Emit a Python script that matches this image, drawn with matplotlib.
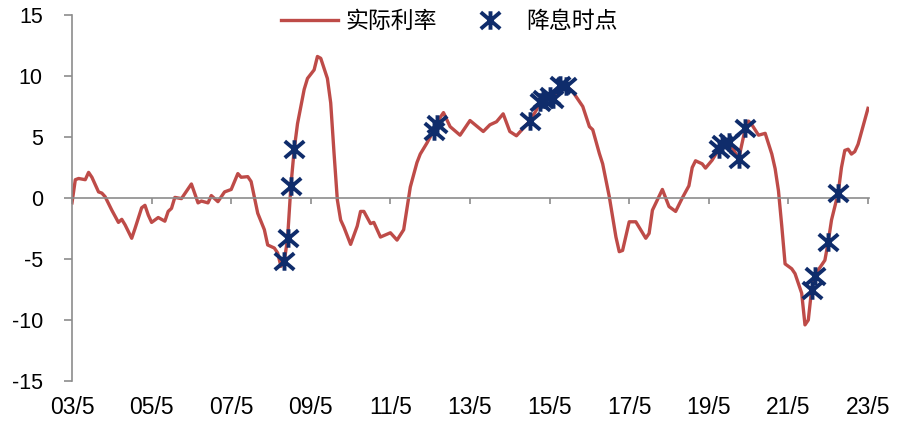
import numpy as np
import matplotlib
matplotlib.use("Agg")
import matplotlib.pyplot as plt
from matplotlib.path import Path

# real interest rate, monthly readings (YYYY-MM, %)
rate_dates = [
    "2003-05", "2003-06", "2003-07", "2003-09", "2003-10", "2003-11", "2004-01", "2004-02",
    "2004-03", "2004-05", "2004-07", "2004-08", "2004-09", "2004-11", "2004-12", "2005-02",
    "2005-03", "2005-04", "2005-05", "2005-07", "2005-09", "2005-10", "2005-11", "2005-12",
    "2006-02", "2006-05", "2006-07", "2006-08", "2006-10", "2006-11", "2007-01", "2007-03",
    "2007-05", "2007-07", "2007-08", "2007-10", "2007-11", "2008-01", "2008-03", "2008-04",
    "2008-06", "2008-07", "2008-08", "2008-09", "2008-10", "2008-11", "2008-12", "2009-01",
    "2009-03", "2009-04", "2009-06", "2009-07", "2009-08", "2009-10", "2009-11", "2009-12",
    "2010-01", "2010-02", "2010-03", "2010-05", "2010-07", "2010-08", "2010-09", "2010-11",
    "2010-12", "2011-02", "2011-05", "2011-07", "2011-09", "2011-11", "2012-01", "2012-02",
    "2012-04", "2012-05", "2012-06", "2012-07", "2012-08", "2012-09", "2012-11", "2013-02",
    "2013-05", "2013-09", "2013-11", "2014-01", "2014-03", "2014-05", "2014-07", "2014-09",
    "2014-11", "2015-01", "2015-02", "2015-03", "2015-05", "2015-06", "2015-07", "2015-08",
    "2015-09", "2015-10", "2015-12", "2016-03", "2016-05", "2016-06", "2016-08", "2016-09",
    "2016-11", "2017-01", "2017-02", "2017-03", "2017-05", "2017-07", "2017-10", "2017-11",
    "2017-12", "2018-03", "2018-05", "2018-07", "2018-09", "2018-10", "2018-11", "2018-12",
    "2019-01", "2019-03", "2019-04", "2019-06", "2019-08", "2019-09", "2019-11", "2019-12",
    "2020-02", "2020-04", "2020-05", "2020-06", "2020-08", "2020-10", "2020-12", "2021-01",
    "2021-02", "2021-03", "2021-04", "2021-06", "2021-07", "2021-09", "2021-10", "2021-11",
    "2021-12", "2022-01", "2022-02", "2022-04", "2022-05", "2022-06", "2022-08", "2022-09",
    "2022-10", "2022-11", "2022-12", "2023-01", "2023-02", "2023-05",
]
rate_values = [
    -0.4, 1.5, 1.6, 1.5, 2.1, 1.7, 0.5, 0.4,
    0.1, -1.0, -2.0, -1.75, -2.2, -3.3, -2.5, -0.8,
    -0.6, -1.4, -2.0, -1.6, -1.9, -1.1, -0.85, 0.05,
    -0.05, 1.15, -0.4, -0.25, -0.4, 0.2, -0.3, 0.5,
    0.7, 2.0, 1.7, 1.75, 1.35, -1.25, -2.6, -3.85,
    -4.1, -4.5, -5.6, -5.2, -3.3, 1.0, 4.0, 6.1,
    8.9, 9.8, 10.5, 11.6, 11.45, 9.8, 7.8, 3.7,
    -0.15, -1.8, -2.4, -3.8, -2.3, -1.1, -1.1, -2.1,
    -2.0, -3.2, -2.85, -3.45, -2.6, 0.9, 2.9, 3.6,
    4.5, 5.0, 5.5, 6.1, 6.6, 7.0, 5.85, 5.15,
    6.35, 5.45, 6.0, 6.25, 6.9, 5.45, 5.1, 5.7,
    6.3, 7.2, 7.9, 8.1, 8.4, 8.1, 8.7, 9.3,
    9.4, 9.2, 8.7, 7.5, 5.85, 5.6, 3.65, 2.8,
    0.1, -3.2, -4.4, -4.3, -1.95, -1.95, -3.3, -2.9,
    -1.0, 0.7, -0.7, -1.1, 0.0, 0.5, 1.0, 2.5,
    3.05, 2.8, 2.45, 3.1, 4.0, 4.4, 4.6, 4.2,
    3.2, 5.7, 6.3, 6.0, 5.15, 5.3, 3.6, 2.4,
    0.6, -2.3, -5.4, -5.8, -6.2, -7.8, -10.4, -10.0,
    -7.5, -6.4, -5.9, -5.1, -3.6, -1.8, 0.4, 2.5,
    3.9, 4.0, 3.6, 3.8, 4.4, 7.35,
]

# rate cut dates and the real rate at that time
cut_dates = [
    "2008-09", "2008-10", "2008-11", "2008-12",
    "2012-06", "2012-07",
    "2014-11", "2015-02", "2015-03", "2015-05", "2015-06", "2015-08", "2015-10",
    "2019-08", "2019-09", "2019-11", "2020-02", "2020-04",
    "2021-12", "2022-01", "2022-05", "2022-08",
]
cut_values = [
    -5.2, -3.3, 1.0, 4.0,
    5.5, 6.1,
    6.3, 7.9, 8.1, 8.4, 8.1, 9.3, 9.2,
    4.0, 4.4, 4.6, 3.2, 5.7,
    -7.5, -6.4, -3.6, 0.4,
]

tick_labels = ["03/5", "05/5", "07/5", "09/5", "11/5", "13/5",
               "15/5", "17/5", "19/5", "21/5", "23/5"]
y_ticks = [-15, -10, -5, 0, 5, 10, 15]


def month_index(s):
    y, m = s.split("-")
    return (int(y) - 2003) * 12 + int(m) - 5


rate_x = [month_index(d) for d in rate_dates]
cut_x = [month_index(d) for d in cut_dates]

LINE_COLOR = "#BE4B48"
MARK_COLOR = "#0F2C6B"
AXIS_COLOR = "#8C8C8C"

# excel-style star marker: X plus a vertical stroke
star = Path(
    [(-1, -0.85), (1, 0.85), (-1, 0.85), (1, -0.85), (0, -0.95), (0, 0.95)],
    [Path.MOVETO, Path.LINETO, Path.MOVETO, Path.LINETO, Path.MOVETO, Path.LINETO],
)

plt.rcParams["font.family"] = ["Liberation Sans", "Noto Sans CJK SC", "DejaVu Sans"]
plt.rcParams["axes.unicode_minus"] = False

fig = plt.figure(figsize=(9.01, 4.24), dpi=100)
ax = fig.add_axes([72 / 901, 1 - 381 / 424, 797 / 901, 366 / 424])

ax.plot(rate_x, rate_values, color=LINE_COLOR, lw=2.4, label="实际利率",
        solid_joinstyle="round", zorder=2)
ax.plot(cut_x, cut_values, ls="none", marker=star, ms=14, mew=2.8,
        mec=MARK_COLOR, mfc="none", label="降息时点", zorder=3)

ax.set_xlim(0, 240.3)
ax.set_ylim(-15, 15)

for s in ["top", "right"]:
    ax.spines[s].set_visible(False)
ax.spines["left"].set_color(AXIS_COLOR)
ax.spines["left"].set_linewidth(1.2)
ax.spines["bottom"].set_position(("data", 0))
ax.spines["bottom"].set_color(AXIS_COLOR)
ax.spines["bottom"].set_linewidth(1.2)

ax.set_yticks(y_ticks)
ax.tick_params(axis="y", direction="out", length=6, width=1.2, color=AXIS_COLOR,
               labelsize=15.5, pad=15)

tick_pos = list(range(0, 241, 24))
ax.set_xticks(tick_pos)
ax.tick_params(axis="x", direction="out", length=4, width=1.2, color=AXIS_COLOR,
               labelbottom=False)

# tick labels sit at the bottom edge of the chart
sec = ax.secondary_xaxis("bottom")
sec.set_xticks(tick_pos)
sec.set_xticklabels(tick_labels)
sec.spines["bottom"].set_visible(False)
sec.tick_params(length=0, labelsize=16.5, pad=11)

leg = ax.legend(loc="center", bbox_to_anchor=(0.473, 0.983), ncol=2, frameon=False,
                prop={"family": ["Noto Sans CJK SC"], "size": 16.5},
                handlelength=2.5, handletextpad=0.3, columnspacing=1.1)

fig.savefig("out.png", dpi=100)
